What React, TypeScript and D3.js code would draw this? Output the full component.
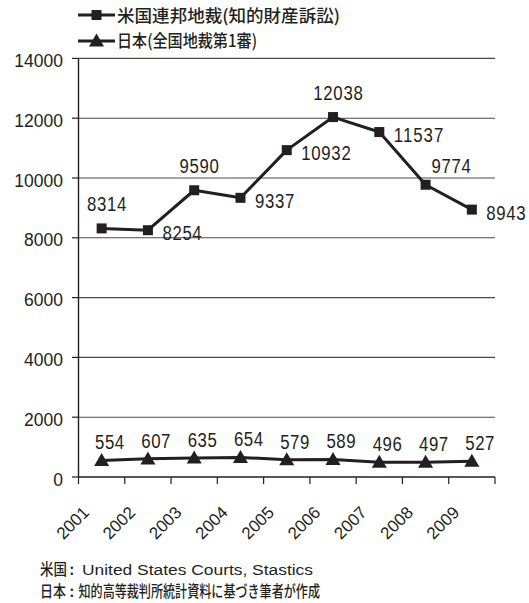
import React from 'react';
import * as d3 from 'd3';

const years = ['2001', '2002', '2003', '2004', '2005', '2006', '2007', '2008', '2009'];
const usCases = [8314, 8254, 9590, 9337, 10932, 12038, 11537, 9774, 8943];
const jpCases = [554, 607, 635, 654, 579, 589, 496, 497, 527];
const usLabelPlacement = ['a', 'r', 'a', 'r', 'r', 'a', 'r', 'ar', 'r'];
const yTicks = [0, 2000, 4000, 6000, 8000, 10000, 12000, 14000];
const legendUs = '米国連邦地裁(知的財産訴訟)';
const legendJp = '日本(全国地裁第1審)';
const sourceLine1Head = '米国';
const sourceLine1Body = 'United States Courts, Stastics';
const sourceLine2Head = '日本';
const sourceLine2Body = '知的高等裁判所統計資料に基づき筆者が作成';

const W = 529;
const H = 603;
const INK = '#231f20';
const GRID = '#4a4a4a';
const SANS = "'Liberation Sans', Arial, sans-serif";
const CJK = "'Noto Sans CJK JP', 'Noto Sans CJK SC', sans-serif";

const LABEL_SCALE = 0.82;

export default function App() {
  const x = d3.scaleBand<string>().domain(years).range([78.5, 495]).padding(0);
  const y = d3.scaleLinear().domain([0, 14000]).range([477, 58.4]);
  const cx = (i: number) => (x(years[i]) as number) + x.bandwidth() / 2;

  const line = d3
    .line<number>()
    .x((_, i) => cx(i))
    .y((d) => y(d));

  const boundaries = years.map((yr) => x(yr) as number).concat([x.range()[1]]);
  const tri = (px: number, py: number) =>
    `M${px},${py - 7.4}L${px + 7.5},${py + 5.6}L${px - 7.5},${py + 5.6}Z`;

  const labelW = (s: string) => s.length * 10.2 - 1.5;

  const dataLabel = (key: string, s: string, tx: number, ty: number) => {
    const w = labelW(s);
    return (
      <text
        key={key}
        transform={`translate(${tx},${ty}) scale(${LABEL_SCALE},1)`}
        fontFamily={SANS}
        fontSize={20.5}
        fill={INK}
        textLength={w / LABEL_SCALE}
        lengthAdjust="spacing"
      >
        {s}
      </text>
    );
  };

  return (
    <svg
      width={W}
      height={H}
      viewBox={`0 0 ${W} ${H}`}
      style={{ position: 'absolute', left: 0, top: 0, background: '#fff' }}
    >
      <rect x={0} y={0} width={W} height={H} fill="#fff" />
      {/* gridlines */}
      {yTicks.map((t) => (
        <line key={'g' + t} x1={78.5} x2={495} y1={y(t)} y2={y(t)} stroke={t === 0 ? INK : GRID} strokeWidth={t === 0 ? 1.4 : 1.1} />
      ))}
      {/* y axis */}
      <line x1={78.5} x2={78.5} y1={y(14000)} y2={y(0)} stroke={INK} strokeWidth={1.4} />
      {yTicks.map((t) => (
        <g key={'yt' + t}>
          <line x1={72} x2={78.5} y1={y(t)} y2={y(t)} stroke={INK} strokeWidth={1.2} />
          <text x={63} y={y(t) + 8.5} textAnchor="end" fontFamily={SANS} fontSize={17.5} fill={INK}>
            {t}
          </text>
        </g>
      ))}
      {/* x ticks */}
      {boundaries.map((b, i) => (
        <line key={'xt' + i} x1={b} x2={b} y1={477} y2={484} stroke={INK} strokeWidth={1.2} />
      ))}
      {years.map((yr, i) => (
        <text
          key={'xl' + yr}
          transform={`translate(${cx(i) - 11.5},${513.5}) rotate(-45)`}
          textAnchor="end"
          fontFamily={SANS}
          fontSize={17}
          fill={INK}
        >
          {yr}
        </text>
      ))}

      {/* US series */}
      <path d={line(usCases) || ''} fill="none" stroke={INK} strokeWidth={3} strokeLinejoin="round" />
      {usCases.map((v, i) => (
        <rect key={'us' + i} x={cx(i) - 5} y={y(v) - 5} width={10} height={10} fill={INK} />
      ))}
      {usCases.map((v, i) => {
        const s = String(v);
        const p = usLabelPlacement[i];
        const w = labelW(s);
        let tx = cx(i) + 14.5;
        let ty = y(v) + 10;
        if (p === 'a') {
          tx = cx(i) + 5 - w / 2;
          ty = y(v) - 17;
        } else if (p === 'ar') {
          tx = cx(i) + 6;
          ty = y(v) - 12;
        }
        return dataLabel('usl' + i, s, tx, ty);
      })}

      {/* Japan series */}
      <path d={line(jpCases) || ''} fill="none" stroke={INK} strokeWidth={3} strokeLinejoin="round" />
      {jpCases.map((v, i) => (
        <path key={'jp' + i} d={tri(cx(i), y(v))} fill={INK} />
      ))}
      {jpCases.map((v, i) => {
        const s = String(v);
        const w = labelW(s);
        return dataLabel('jpl' + i, s, cx(i) + 8 - w / 2, y(v) - 11);
      })}

      {/* legend */}
      <line x1={78} x2={115} y1={15} y2={15} stroke={INK} strokeWidth={3} />
      <rect x={91.5} y={10} width={10} height={10} fill={INK} />
      <text x={117} y={21.5} fontFamily={CJK} fontWeight={500} fontSize={17} fill={INK} textLength={223} lengthAdjust="spacingAndGlyphs">
        {legendUs}
      </text>
      <line x1={78} x2={115} y1={41} y2={41} stroke={INK} strokeWidth={3} />
      <path d={tri(96.5, 41)} fill={INK} />
      <text x={117} y={47} fontFamily={CJK} fontWeight={500} fontSize={17} fill={INK} textLength={140} lengthAdjust="spacingAndGlyphs">
        {legendJp}
      </text>

      {/* sources */}
      <text y={575} fontSize={15.5} fill={INK}>
        <tspan fontFamily={CJK} fontWeight={500} x={40} textLength={27} lengthAdjust="spacingAndGlyphs">
          {sourceLine1Head}
        </tspan>
        <tspan fontFamily={CJK} fontWeight={500} x={69.5}>
          :
        </tspan>
        <tspan fontFamily={SANS} x={82} textLength={231} lengthAdjust="spacingAndGlyphs">
          {sourceLine1Body}
        </tspan>
      </text>
      <text y={596.5} fontSize={15.5} fill={INK}>
        <tspan fontFamily={CJK} fontWeight={500} x={40} textLength={26} lengthAdjust="spacingAndGlyphs">
          {sourceLine2Head}
        </tspan>
        <tspan fontFamily={CJK} fontWeight={500} x={69.5}>
          :
        </tspan>
        <tspan fontFamily={CJK} fontWeight={500} x={78.5} textLength={241.5} lengthAdjust="spacingAndGlyphs">
          {sourceLine2Body}
        </tspan>
      </text>
    </svg>
  );
}
